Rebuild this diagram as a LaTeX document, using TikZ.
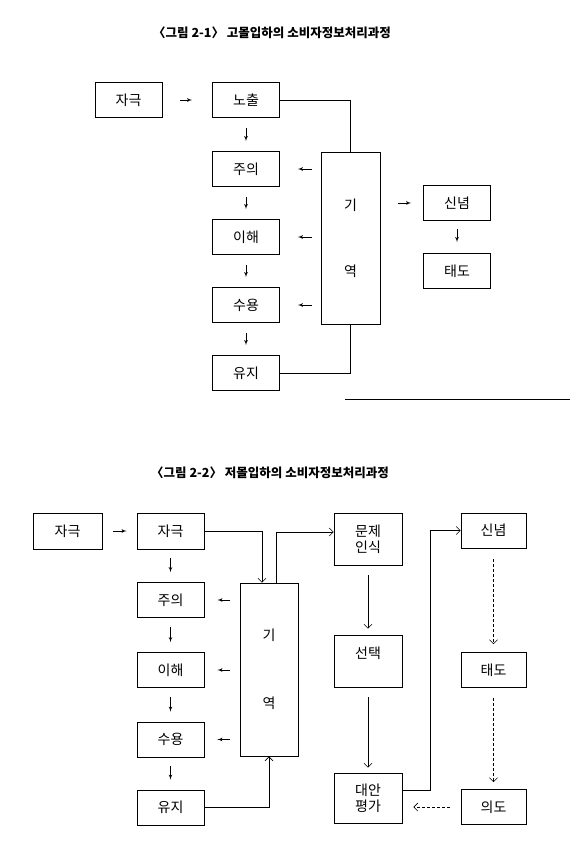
\documentclass[tikz,border=0pt]{standalone}
\usepackage{fontspec}
\setmainfont{Noto Sans CJK KR}
\usepackage{tikz}
\usetikzlibrary{arrows, arrows.meta, positioning}
\tikzstyle{box} = [rectangle, minimum width=67pt, minimum height=35pt, inner sep=0pt, text centered, draw=black, line width=0.8pt, font=\fontsize{14}{16}\selectfont]
\tikzstyle{tallbox} = [box, minimum width=68pt, minimum height=52pt, align=center]
\tikzstyle{memory} = [rectangle, draw=black, line width=0.8pt, minimum width=59pt, minimum height=172pt, align=center, font=\fontsize{14}{16}\selectfont]
\tikzstyle{line} = [draw, line width=0.7pt, -latex']
\tikzstyle{wire} = [draw, line width=0.7pt]
\tikzstyle{longline} = [draw, line width=0.6pt, -{Straight Barb[length=4pt,width=8pt]}]
\tikzstyle{dashline} = [longline, densely dashed]
\tikzstyle{title} = [font=\bfseries\fontsize{12.5}{15}\selectfont]

\begin{document}
\begin{tikzpicture}[x=1pt, y=1pt, node distance=68pt]
    \useasboundingbox (0,0) rectangle (574,-856);

    % Figure 2-1
    \node [title] (titleA) at (272,-33) {〈그림 2-1〉 고몰입하의 소비자정보처리과정};
    \node [box] (stim) at (128.5,-100) {자극};
    \node [box] (expo) at (246,-100) {노출};
    \node [box, below of=expo, node distance=69pt] (attn) {주의};
    \node [box, below of=attn] (comp) {이해};
    \node [box, below of=comp] (accept) {수용};
    \node [box, below of=accept] (retain) {유지};
    \node [memory] (mem) at (350.5,-238) {기\\[50pt]역};
    \node [box] (belief) at (457,-203) {신념};
    \node [box, below of=belief] (attitude) {태도};

    \path [line, shorten <=18pt, shorten >=20pt] (stim) -- (expo);
    \foreach \a/\b in {expo/attn, attn/comp, comp/accept, accept/retain}
        \path [line, shorten <=10pt, shorten >=10pt] (\a) -- (\b);
    \foreach \b in {attn, comp, accept}
        \path [line, shorten <=9pt, shorten >=18pt] (mem.west |- \b) -- (\b);
    \path [wire] (expo) -| (mem);
    \path [wire] (retain) -| (mem);
    \path [line, shorten <=18pt, shorten >=12pt] (mem.east |- belief) -- (belief);
    \path [line, shorten <=8pt, shorten >=11pt] (belief) -- (attitude);
    \draw [line width=0.6pt] (345,-399) -- (570,-399);

    % Figure 2-2
    \node [title] (titleB) at (270,-473) {〈그림 2-2〉 저몰입하의 소비자정보처리과정};
    \node [box, minimum width=69pt, minimum height=36pt] (stimB) at (67.5,-531) {자극};
    \node [box, minimum height=36pt] (stimC) at (170.5,-531) {자극};
    \node [box, below of=stimC, node distance=69pt] (attnB) {주의};
    \node [box, below of=attnB, node distance=70pt] (compB) {이해};
    \node [box, below of=compB, node distance=69.5pt] (acceptB) {수용};
    \node [box, below of=acceptB] (retainB) {유지};
    \node [memory, minimum width=58pt, minimum height=173pt] (memB) at (269,-669.5) {기\\[52pt]역};
    \node [tallbox] (problem) at (368,-539) {문제\\인식};
    \node [tallbox] (choice) at (368,-661) {선택\\~};
    \node [tallbox, minimum height=50pt] (evaluate) at (368,-798) {대안\\평가};
    \node [box, minimum width=65pt] (beliefB) at (493.5,-530.5) {신념};
    \node [box, minimum width=65pt, below of=beliefB, node distance=139.5pt] (attitudeB) {태도};
    \node [box, minimum width=65pt, below of=attitudeB, node distance=137pt] (intent) {의도};

    \path [line, shorten <=11pt, shorten >=10pt] (stimB) -- (stimC);
    \foreach \a/\b in {stimC/attnB, attnB/compB, compB/acceptB, acceptB/retainB}
        \path [line, shorten <=9pt, shorten >=10pt] (\a) -- (\b);
    \foreach \b in {attnB, compB, acceptB}
        \path [line, shorten <=10pt, shorten >=13pt] (memB.west |- \b) -- (\b);
    \path [longline] (stimC.east) -| ([xshift=-7pt]memB.north);
    \path [longline] ([xshift=7pt]memB.north) |- ([yshift=7pt]problem.west);
    \path [longline] (retainB) -| (memB);
    \path [longline, shorten <=10pt, shorten >=6pt] (problem) -- (choice);
    \path [longline, shorten <=10pt, shorten >=5pt] (choice) -- (evaluate);
    \path [longline] ([yshift=8pt]evaluate.east) -| ([xshift=-30pt]beliefB.west) -- (beliefB);
    \path [dashline, shorten <=11pt, shorten >=8pt] (beliefB) -- (attitudeB);
    \path [dashline, shorten <=10pt, shorten >=7pt] (attitudeB) -- (intent);
    \path [dashline, shorten <=11pt, shorten >=11pt] (intent) -- (evaluate.east |- intent);
\end{tikzpicture}
\end{document}
